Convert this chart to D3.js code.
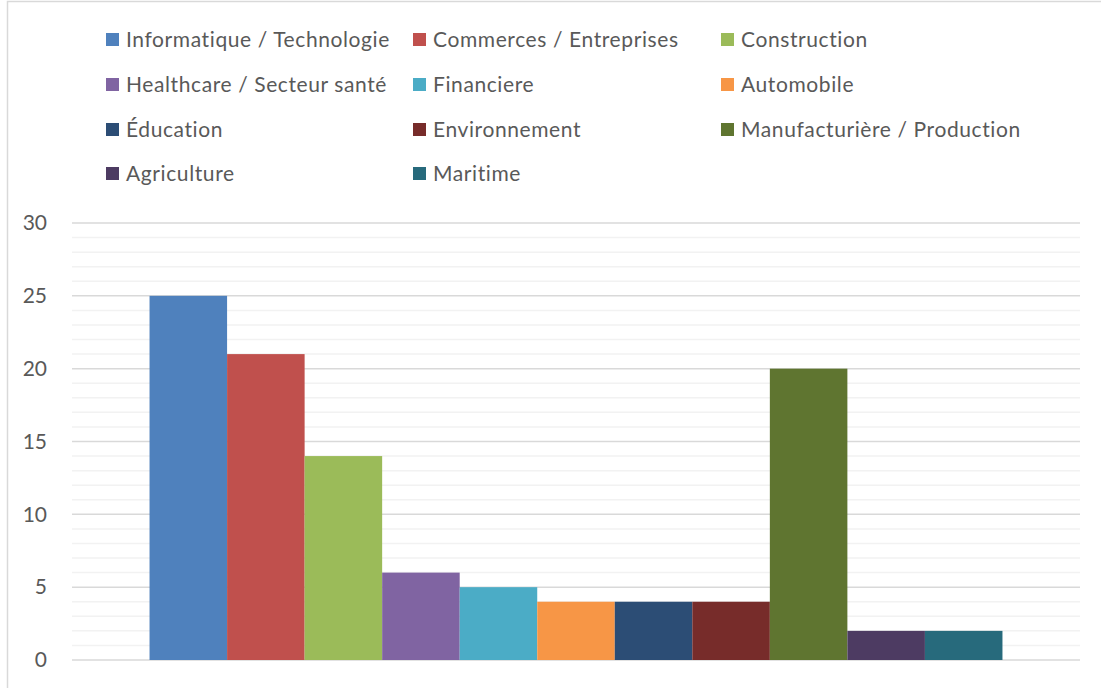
<!DOCTYPE html>
<html>
<head>
<meta charset="utf-8">
<script src="https://cdn.jsdelivr.net/npm/d3@7"></script>
<style>
  html, body { margin: 0; padding: 0; background: #fff; }
  svg { display: block; }
  text { font-family: Lato, "Open Sans", sans-serif; fill: #595959; }
</style>
</head>
<body>
<svg id="chart" width="1101" height="688"></svg>
<script>
// Répartition par secteur d'activité
const sectors = [
  "Informatique / Technologie",
  "Commerces / Entreprises",
  "Construction",
  "Healthcare / Secteur santé",
  "Financiere",
  "Automobile",
  "Éducation",
  "Environnement",
  "Manufacturière / Production",
  "Agriculture",
  "Maritime"
];
const counts = [25, 21, 14, 6, 5, 4, 4, 4, 20, 2, 2];
const colors = [
  "#4F81BD", "#C0504D", "#9BBB59", "#8064A2", "#4BACC6", "#F79646",
  "#2C4D75", "#772C2A", "#5F7530", "#4D3B62", "#276A7C"
];
const yTicks = [0, 5, 10, 15, 20, 25, 30];

const svg = d3.select("#chart");
const W = 1101, H = 688;

// outer chart frame
svg.append("rect")
  .attr("x", 7.5).attr("y", 1.5)
  .attr("width", W + 20).attr("height", H + 20)
  .attr("fill", "none").attr("stroke", "#d9d9d9").attr("stroke-width", 1.5);

const plot = { left: 72, right: 1080, top: 223, bottom: 660 };

const y = d3.scaleLinear().domain([0, 30]).range([plot.bottom, plot.top]);

const slot = (plot.right - plot.left) / 13;
const x = d3.scaleBand()
  .domain(sectors)
  .range([plot.left + slot, plot.right - slot])
  .padding(0);

// minor gridlines
const g = svg.append("g");
g.selectAll("line.minor")
  .data(d3.range(0, 31).filter(v => v % 5 !== 0))
  .join("line")
  .attr("class", "minor")
  .attr("x1", plot.left).attr("x2", plot.right)
  .attr("y1", d => y(d)).attr("y2", d => y(d))
  .attr("stroke", "#f2f2f2").attr("stroke-width", 1.5);

// major gridlines
g.selectAll("line.major")
  .data(yTicks)
  .join("line")
  .attr("class", "major")
  .attr("x1", plot.left).attr("x2", plot.right)
  .attr("y1", d => y(d)).attr("y2", d => y(d))
  .attr("stroke", "#d9d9d9").attr("stroke-width", 1.5);

// y axis labels
const yAxis = d3.axisLeft(y).tickValues(yTicks).tickSize(0).tickPadding(0);
const ya = svg.append("g").attr("transform", `translate(47,0)`).call(yAxis);
ya.select(".domain").remove();
ya.selectAll("text")
  .attr("font-size", 21)
  .attr("fill", "#595959")
  .style("font-family", "Lato, 'Open Sans', sans-serif");

// bars
svg.append("g").selectAll("rect")
  .data(sectors.map((s, i) => ({ s, v: counts[i], c: colors[i] })))
  .join("rect")
  .attr("x", d => x(d.s))
  .attr("width", x.bandwidth())
  .attr("y", d => y(d.v))
  .attr("height", d => y(0) - y(d.v))
  .attr("fill", d => d.c);

// legend: 3 columns
const colX = [106, 413, 721];
const rowY = [40, 85, 130, 174];
const leg = svg.append("g").selectAll("g")
  .data(sectors.map((s, i) => ({ s, c: colors[i], i })))
  .join("g")
  .attr("transform", d => `translate(${colX[d.i % 3]},${rowY[Math.floor(d.i / 3)]})`);
leg.append("rect")
  .attr("x", 0).attr("y", -7)
  .attr("width", 13).attr("height", 13)
  .attr("fill", d => d.c);
leg.append("text")
  .attr("x", 20).attr("y", 0)
  .attr("dy", "0.35em")
  .attr("font-size", 21)
  .attr("letter-spacing", 0.6)
  .text(d => d.s);
</script>
</body>
</html>
